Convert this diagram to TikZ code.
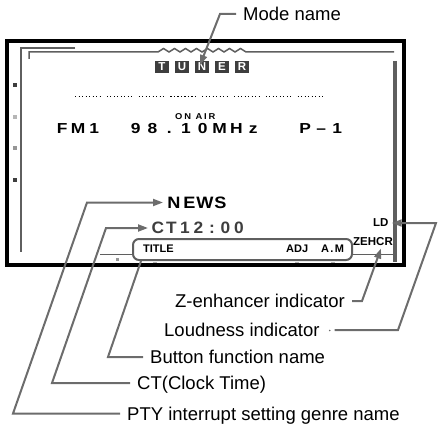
\documentclass[tikz,border=0pt]{standalone}
\usepackage{fontspec}
\setmainfont{Liberation Sans}
\usetikzlibrary{arrows.meta,positioning,calc}
\definecolor{lineGray}{RGB}{108,108,108}
\definecolor{panelGray}{RGB}{95,95,95}
\definecolor{tunerGray}{RGB}{62,62,62}
\definecolor{dotGray}{RGB}{150,150,150}
\newcommand\lcd[3]{\fontsize{#1}{#1}\selectfont\bfseries\addfontfeatures{LetterSpace=#2,FakeStretch=#3}}
% one character per fixed cell, as on the display
\newlength\cellwd
\newcommand\lcdrow[2]{\setlength\cellwd{#1}\lcdspread#2\relax}
\def\lcdspread#1{\ifx#1\relax\else\makebox[\cellwd][c]{#1}\expandafter\lcdspread\fi}

\begin{document}
\begin{tikzpicture}[x=1pt, y=-1pt,
  callout/.style={draw=lineGray, line width=2pt},
  pointer/.style={callout, -{Triangle[length=10pt,width=7pt]}, shorten >=3pt},
  callouttext/.style={inner xsep=7pt, inner ysep=0pt, text depth=0pt,
                      anchor=west, font=\fontsize{18.5}{20}\selectfont},
  lcdtext/.style={inner sep=0pt, text depth=0pt, anchor=west},
  tunerbox/.style={fill=tunerGray, text=white, minimum width=14.5pt,
                   minimum height=12.5pt, inner sep=0pt,
                   font=\fontsize{11.5}{11.5}\selectfont\bfseries},
  fnframe/.style={draw=panelGray, line width=2pt, rounded corners=6pt,
                  fill=white, minimum width=219pt, minimum height=21pt}
]
  \useasboundingbox (0,0) rectangle (438,430);

  % display panel
  \draw[line width=4pt] (7,41.5) rectangle (403.5,264.5);
  \draw[panelGray, line width=2pt] (75,48) -- (21,48) -- (21,252);
  \draw[panelGray, line width=1.5pt] (29,59) -- (29,52) -- (158,52)
    \foreach \k in {1,...,8} { -- ++(5.5,-3.5) -- ++(5.5,3.5) } -- (394,52);
  \draw[panelGray, line width=4pt] (395,61) -- (395,262);
  \draw[panelGray, line width=1.5pt] (100,254.5) -- (395,254.5);
  \foreach \y/\c in {85/tunerGray, 117/dotGray!70, 148/dotGray, 180/tunerGray}
    \fill[\c] (13.3,\y-1.7) rectangle ++(3.4,3.4);
  \fill[dotGray] (115.5,257.5) rectangle ++(3.2,3.2);
  \foreach \x in {155,297,333}
    \draw[dotGray!70, line width=1pt] (\x-2,262.5) -- (\x+2,262.5);

  % mode name
  \foreach \l [count=\i] in {T,U,N,E,R}
    \node[tunerbox] (t\i) at (162+\i*20-20,67) {\l};
  \foreach \i in {0,...,7}
    \draw[line width=1pt, dash pattern=on 1.1pt off 2.4pt] (75+\i*31.8,97) -- ++(27,0);

  \node[lcdtext, font=\lcd{8.5}{22}{1.1}] (onair) at (175,117) {ON AIR};
  \node[lcdtext, font=\lcd{14.5}{0}{1.2}] (band) at (54,128.5) {\lcdrow{16pt}{FM1}};
  \node[lcdtext, font=\lcd{14.5}{0}{1.2}] (freq) at (127,128.5) {\lcdrow{16.8pt}{98.10MHz}};
  \node[lcdtext, font=\lcd{14.5}{0}{1.2}] (preset) at (297,128.5) {\lcdrow{16pt}{P–1}};

  \node[lcdtext, font=\lcd{16.5}{0}{1.1}] (genre) at (166,202.5) {\lcdrow{15.5pt}{NEWS}};
  \node[lcdtext, font=\lcd{16.5}{0}{1.05}, text=tunerGray] (ctime) at (151,228) {\lcdrow{13.5pt}{CT12:00}};

  \node[fnframe] (fnbox) at (242.5,249.5) {};
  \node[lcdtext, font=\lcd{11}{0}{1}] (title) at (143,249) {TITLE};
  \node[lcdtext, font=\lcd{11}{0}{1}] (adj) at (286,249) {ADJ};
  \node[lcdtext, font=\lcd{11}{12}{1}] (am) at (321,249) {A.M};
  \node[lcdtext, font=\lcd{11.5}{0}{1}] (zehcr) at (353,241.5) {ZEHCR};
  \node[lcdtext, font=\lcd{11.5}{0}{1}] (ld) at (373,223) {LD};

  % callout labels
  \node[callouttext] (mode) at (236,14) {Mode name};
  \node[callouttext, anchor=east] (zenh) at (352,301) {Z-enhancer indicator};
  \node[callouttext] (loud) at (157,330) {Loudness indicator};
  \node[callouttext] (button) at (143,357) {Button function name};
  \node[callouttext] (clock) at (130,383) {CT(Clock Time)};
  \node[callouttext] (pty) at (120,413.5) {PTY interrupt setting genre name};

  \coordinate (modetip) at (200,65);
  \fill[lineGray] ($(loud.east)+(3,0.5)$) circle (0.9pt);

  % connectors
  \draw[pointer, shorten >=0pt] (mode.west) -- (220,14) -- (modetip);
  \draw[pointer] (pty.west) -- (13,413.5) -- (87,0 |- genre.west) -- (genre.west);
  \draw[pointer] (clock.west) -- (52,383) -- (106,0 |- ctime.west) -- (ctime.west);
  \draw[callout] (button.west) -- (108,357) -- ([xshift=9pt]fnbox.south west);
  \draw[pointer] (zenh.east) -- (362,301) -- ([xshift=9pt]zehcr.south);
  \draw[pointer] ($(loud.east)+(8,0)$) -- (398,330) -- (436,223) -- (ld.east);
\end{tikzpicture}
\end{document}
